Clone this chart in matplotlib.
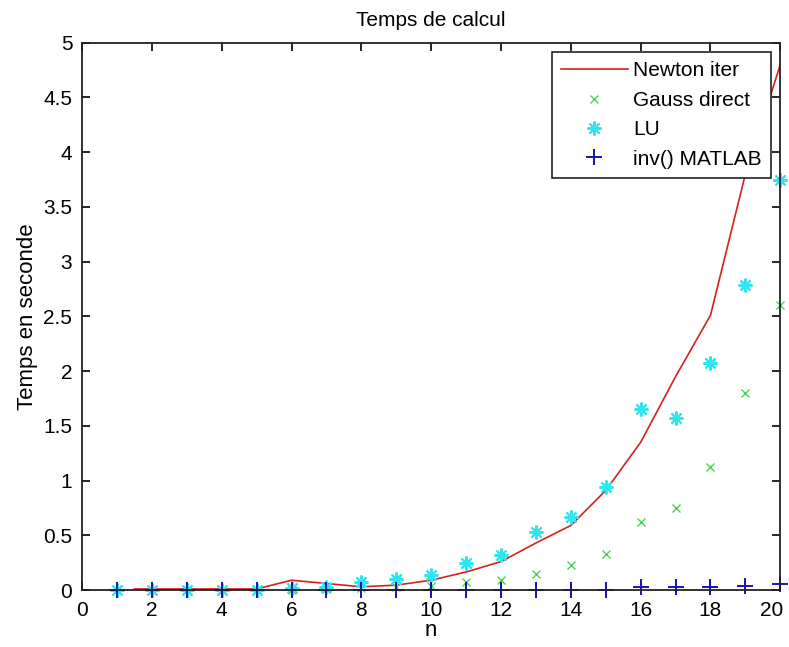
import numpy as np
import matplotlib
matplotlib.use("Agg")
import matplotlib.pyplot as plt
from matplotlib.transforms import ScaledTranslation

plt.rcParams["font.family"] = ["Liberation Sans", "DejaVu Sans"]

n = list(range(1, 21))

# Newton iter line starts a bit left of n=2
newton_n = [1.5] + list(range(2, 21))
newton = [0.01, 0.01, 0.01, 0.01, 0.01, 0.09, 0.06, 0.03, 0.045, 0.09,
          0.165, 0.26, 0.43, 0.59, 0.91, 1.35, 1.95, 2.51, 3.8, 4.8]

gauss = [0.0, 0.005, 0.005, 0.005, 0.005, 0.005, 0.01, 0.02, 0.03, 0.04,
         0.07, 0.09, 0.15, 0.23, 0.33, 0.62, 0.75, 1.12, 1.80, 2.6]

lu = [0.0, 0.005, 0.005, 0.005, 0.005, 0.02, 0.03, 0.07, 0.1, 0.14,
      0.25, 0.32, 0.53, 0.67, 0.94, 1.65, 1.57, 2.07, 2.79, 3.75]

inv = [0.0, 0.0, 0.0, 0.0, 0.0, 0.0, 0.0, 0.0, 0.0, 0.0,
       0.0, 0.0, 0.0, 0.0, 0.0, 0.025, 0.025, 0.03, 0.04, 0.055]

xticks = list(range(0, 21, 2))
yticks = [0, 0.5, 1, 1.5, 2, 2.5, 3, 3.5, 4, 4.5, 5]
ytick_labels = ['0', '0.5', '1', '1.5', '2', '2.5', '3', '3.5', '4', '4.5', '5']

fig = plt.figure(figsize=(7.89, 6.47), dpi=100)
ax = fig.add_axes([0.104, 0.088, 0.885, 0.846])

ax.plot(newton_n, newton, '-', color='#d62020', lw=1.2, label='Newton iter')
ax.plot(n, gauss, 'x', color='#4fd24f', ms=6, mew=1.0, ls='none',
        label='Gauss direct', clip_on=False)
ax.plot(n, lu, marker=(8, 2, 0), color='#2ee6f0', ms=10, mew=1.5, ls='none',
        label='LU', clip_on=False)
ax.plot(n, inv, '+', color='#1414b4', ms=12, mew=1.4, ls='none',
        label='inv() MATLAB', clip_on=False)

ax.set_xlim(0, 20)
ax.set_ylim(0, 5)
ax.set_xticks(xticks)
ax.set_xticklabels([str(t) for t in xticks], fontsize=15)
ax.set_yticks(yticks)
ax.set_yticklabels(ytick_labels, fontsize=15)
ax.tick_params(direction='in', top=True, right=True, length=6, width=1.2)
ax.tick_params(axis='x', pad=8)
ax.tick_params(axis='y', pad=7)
# keep the last x label inside the image
last = ax.xaxis.get_major_ticks()[-1].label1
last.set_horizontalalignment('right')
last.set_transform(last.get_transform() + ScaledTranslation(2 / 72, 0, fig.dpi_scale_trans))
for s in ax.spines.values():
    s.set_linewidth(1.3)
    s.set_color('#222222')

ax.set_title('Temps de calcul', fontsize=15, pad=12)
ax.set_xlabel('n', fontsize=16, labelpad=0)
ax.set_ylabel('Temps en seconde', fontsize=16, labelpad=4)

leg = ax.legend(loc='upper right', fontsize=15, fancybox=False, framealpha=1,
                edgecolor='#222222', borderaxespad=0.45, handlelength=3.2,
                handletextpad=0.25, labelspacing=0.5, borderpad=0.45)
leg.get_frame().set_linewidth(1.2)

fig.savefig('out.png', dpi=100)
